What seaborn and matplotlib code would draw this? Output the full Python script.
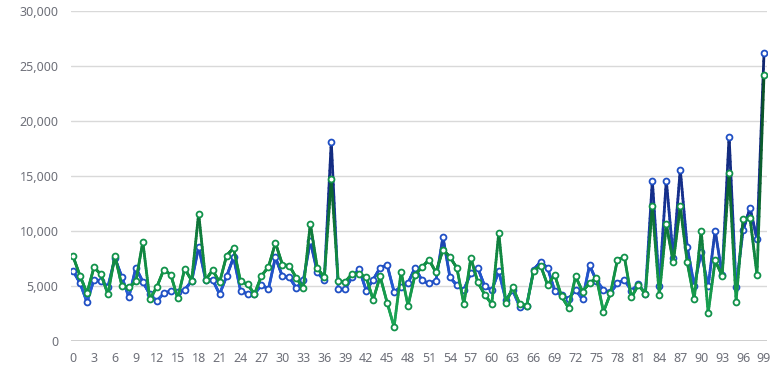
import numpy as np
import pandas as pd
import matplotlib
matplotlib.use('Agg')
import matplotlib.pyplot as plt
import seaborn as sns
from matplotlib.collections import LineCollection
from matplotlib.colors import LinearSegmentedColormap
from matplotlib.ticker import FuncFormatter

# ── DATA ──────────────────────────────────────────────────────
days = list(range(100))

series_blue = [
    6390, 5270, 3530, 5570, 5480, 4930, 7550, 5810, 3990, 6660,
    5390, 4230, 3650, 4320, 4540, 4450, 4660, 5450, 8550, 5540,
    5570, 4260, 5870, 7610, 4570, 4260, 4260, 5110, 4720, 7610,
    5870, 5780, 4810, 5540, 9070, 6240, 5510, 18110, 4720, 4720,
    5840, 6540, 4590, 5570, 6660, 6910, 4470, 4900, 5270, 6660,
    5510, 5230, 5480, 9460, 5810, 5050, 4660, 6180, 6630, 4960,
    4620, 6330, 3740, 4600, 3130, 3220, 6480, 7210, 6630, 4590,
    4140, 3830, 4660, 3800, 6880, 5480, 4660, 4410, 5230, 5560,
    4580, 5150, 4290, 14580, 4960, 14580, 7580, 15580, 8550, 5020,
    8060, 4960, 10040, 6030, 18590, 4870, 10070, 12080, 9250, 26140,
]

series_green = [
    7700, 5930, 4350, 6700, 6050, 4260, 7760, 5020, 4870, 5410,
    9010, 3800, 4900, 6480, 6030, 3900, 6570, 5500, 11570, 5540,
    6450, 5330, 7760, 8460, 5420, 5170, 4260, 5930, 6730, 8920,
    6940, 6850, 5720, 4810, 10650, 6630, 5780, 14700, 5420, 5380,
    6120, 6050, 5810, 3740, 5870, 3500, 1280, 6270, 3200, 6030,
    6700, 7390, 6240, 8310, 7640, 6630, 3350, 7550, 5330, 4200,
    3350, 9830, 3440, 4870, 3380, 3220, 6390, 6850, 5080, 6030,
    4050, 3010, 5870, 4500, 5270, 5720, 2650, 4320, 7390, 7640,
    3960, 5100, 4290, 12270, 4140, 10620, 7150, 12270, 7150, 3800,
    10040, 2530, 7330, 5930, 15250, 3590, 11110, 11170, 6000, 24190,
]

y_ticks = [0, 5000, 10000, 15000, 20000, 25000, 30000]
x_ticks = list(range(0, 100, 3))

df = pd.DataFrame({'day': days, 'blue': series_blue, 'green': series_green})

# ── STYLE ─────────────────────────────────────────────────────
sns.set_theme(style="whitegrid")
plt.rcParams['font.family'] = ['Noto Sans', 'DejaVu Sans']

blue_cmap = LinearSegmentedColormap.from_list(
    'blues', [(0, '#3a7be4'), (0.25, '#2457cf'), (0.6, '#152f8c'), (1, '#10266f')])
green_cmap = LinearSegmentedColormap.from_list(
    'greens', [(0, '#1fae5c'), (0.25, '#149548'), (0.6, '#0c6631'), (1, '#0a5228')])


def gradient_line(ax, x, y, cmap, z):
    # split every segment in small pieces, coloured by height
    xs, ys = [], []
    for i in range(len(x) - 1):
        t = np.linspace(0, 1, 25)
        xs.append(x[i] + (x[i + 1] - x[i]) * t)
        ys.append(y[i] + (y[i + 1] - y[i]) * t)
    xs = np.concatenate(xs)
    ys = np.concatenate(ys)
    pts = np.column_stack([xs, ys]).reshape(-1, 1, 2)
    segs = np.concatenate([pts[:-1], pts[1:]], axis=1)
    mids = (ys[:-1] + ys[1:]) / 2
    lc = LineCollection(segs, cmap=cmap, norm=plt.Normalize(0, 22000),
                        linewidths=2.0, capstyle='round', zorder=z)
    lc.set_array(mids)
    ax.add_collection(lc)


fig = plt.figure(figsize=(7.81, 3.79), dpi=100)
ax = fig.add_axes([71 / 781, 38 / 379, 696 / 781, 330 / 379])

gradient_line(ax, df['day'].values, df['blue'].values, blue_cmap, 2)
sns.scatterplot(data=df, x='day', y='blue', ax=ax, s=18, marker='o',
                facecolor='white', edgecolor='#1f4fc4', linewidth=1.3, zorder=3)
gradient_line(ax, df['day'].values, df['green'].values, green_cmap, 4)
sns.scatterplot(data=df, x='day', y='green', ax=ax, s=18, marker='o',
                facecolor='white', edgecolor='#11924a', linewidth=1.3, zorder=5)

ax.set_xlim(-0.29, 99.43)
ax.set_ylim(0, 30000)
ax.set_xticks(x_ticks)
ax.set_yticks(y_ticks)
ax.yaxis.set_major_formatter(FuncFormatter(lambda v, p: f'{int(v):,}'))
ax.set_xlabel('')
ax.set_ylabel('')

ax.grid(axis='x', visible=False)
ax.grid(axis='y', color='#d9d9d9', linewidth=1.0)
for s in ax.spines.values():
    s.set_visible(False)
ax.axhline(0, color='#c8c8c8', linewidth=1.2, zorder=1)
ax.tick_params(axis='both', length=0, labelsize=9, colors='#6e7079')
ax.tick_params(axis='y', pad=9)
ax.tick_params(axis='x', pad=8)

plt.savefig('out.png', dpi=100)
plt.close()
